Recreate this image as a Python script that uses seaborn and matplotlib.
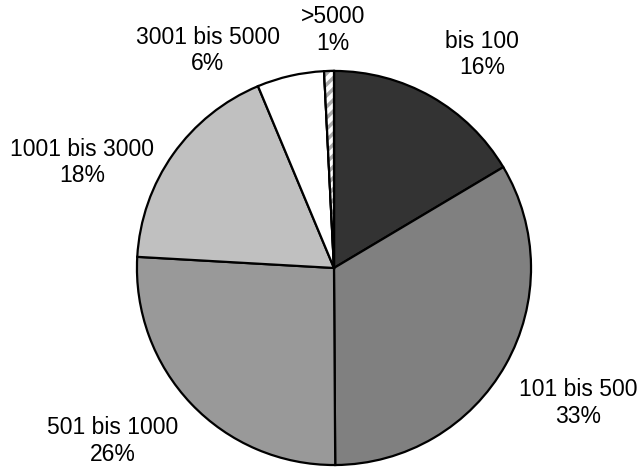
import matplotlib
matplotlib.use("Agg")
import matplotlib.pyplot as plt
from matplotlib.patches import Wedge
import seaborn as sns

# Share of items per size class
categories = ["bis 100", "101 bis 500", "501 bis 1000", "1001 bis 3000", "3001 bis 5000", ">5000"]
shares = [16.45, 33.45, 26.0, 17.8, 5.5, 0.8]

# Fill colours per slice (last slice is hatched)
fills = ["#333333", "#808080", "#999999", "#c0c0c0", "#ffffff", "#ffffff"]

# Label anchor points in pie-radius units
label_xy = [(0.751, 1.084), (1.239, -0.685), (-1.124, -0.878),
            (-1.277, 0.536), (-0.640, 1.104), (-0.005, 1.208)]

sns.set_theme(style="white")
plt.rcParams["font.family"] = ["Liberation Sans", "DejaVu Sans"]
plt.rcParams["hatch.linewidth"] = 2.5

fig = plt.figure(figsize=(6.39, 4.67), dpi=100)
ax = fig.add_axes([0, 0, 1, 1])

wedges, _ = ax.pie(
    shares,
    colors=fills,
    startangle=90,
    counterclock=False,
    radius=1.0,
    wedgeprops=dict(edgecolor="black", linewidth=1.6),
)

# light grey stripes inside the smallest slice, outline kept black
last = wedges[-1]
stripes = Wedge(last.center, last.r, last.theta1, last.theta2,
                facecolor="white", edgecolor="#a8a8a8", linewidth=0,
                hatch="///", zorder=last.get_zorder() + 0.1)
ax.add_patch(stripes)
outline = Wedge(last.center, last.r, last.theta1, last.theta2,
                facecolor="none", edgecolor="black", linewidth=1.6,
                zorder=last.get_zorder() + 0.2)
ax.add_patch(outline)

for name, val, (x, y) in zip(categories, shares, label_xy):
    ax.text(x, y, f"{name}\n{val:.0f}%", ha="center", va="center",
            multialignment="center", fontsize=16.5, color="black",
            linespacing=1.2)

ax.set_xlim(-1.695, 1.548)
ax.set_ylim(-1.010, 1.360)
ax.set_aspect("equal")
ax.axis("off")

fig.savefig("out.png", dpi=100, facecolor="white")
